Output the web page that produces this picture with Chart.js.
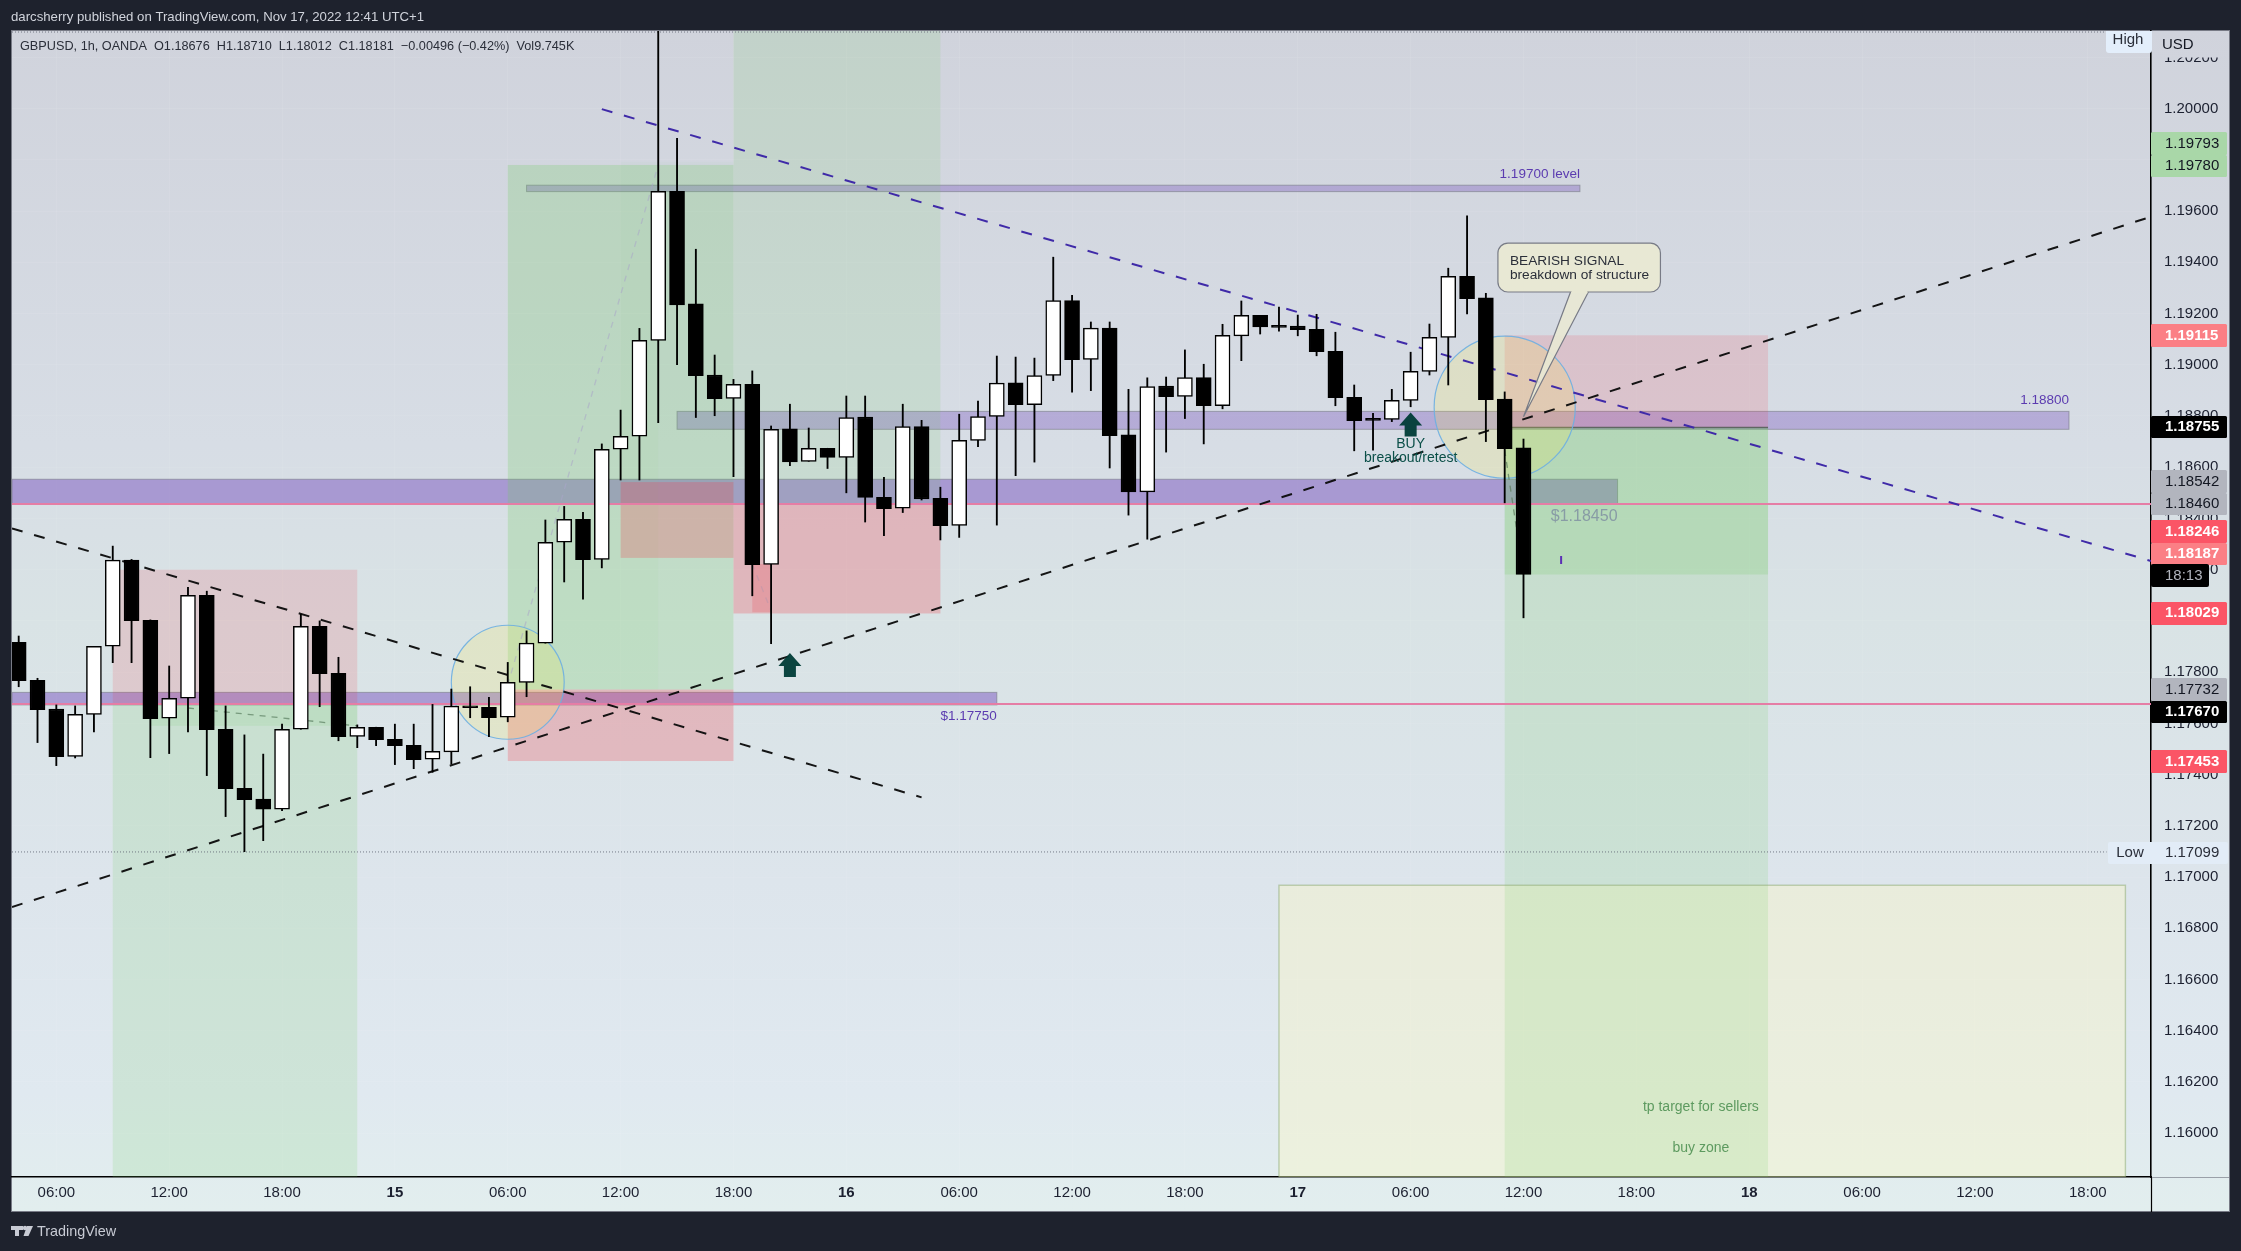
<!DOCTYPE html>
<html><head><meta charset="utf-8"><title>GBPUSD 1h</title>
<style>html,body{margin:0;padding:0;background:#1e222d;overflow:hidden}canvas{display:block}</style>
<script src="https://cdn.jsdelivr.net/npm/chart.js@4"></script>
</head><body><canvas id="c" width="2241" height="1251"></canvas>
<script>
const opens=[1.17916,1.17768,1.17656,1.17471,1.17635,1.17901,1.18237,1.18002,1.17620,1.17698,1.18100,1.17577,1.17346,1.17304,1.17265,1.17577,1.17979,1.17795,1.17549,1.17585,1.17538,1.17514,1.17460,1.17489,1.17667,1.17663,1.17624,1.17760,1.17913,1.18307,1.18397,1.18240,1.18670,1.18721,1.19095,1.19677,1.19238,1.18960,1.18869,1.18924,1.18221,1.18750,1.18623,1.18674,1.18638,1.18796,1.18482,1.18440,1.18759,1.18479,1.18373,1.18705,1.18798,1.18929,1.18844,1.18958,1.19251,1.19021,1.19143,1.18726,1.18504,1.18917,1.18876,1.18950,1.18840,1.19113,1.19193,1.19150,1.19151,1.19138,1.19052,1.18873,1.18788,1.18787,1.18861,1.18974,1.19107,1.19345,1.19261,1.18866,1.18676];
const highs=[1.17941,1.17776,1.17672,1.17668,1.17901,1.18292,1.18240,1.18004,1.17824,1.18131,1.18116,1.17668,1.17555,1.17480,1.17597,1.18026,1.18000,1.17858,1.17594,1.17585,1.17597,1.17597,1.17674,1.17734,1.17743,1.17702,1.17838,1.17961,1.18394,1.18447,1.18424,1.18691,1.18823,1.19142,1.20350,1.19884,1.19451,1.19038,1.18943,1.18976,1.18761,1.18846,1.18753,1.18674,1.18878,1.18878,1.18561,1.18846,1.18783,1.18522,1.18807,1.18858,1.19034,1.19030,1.19026,1.19420,1.19271,1.19167,1.19167,1.18904,1.18949,1.18952,1.19058,1.19002,1.19158,1.19249,1.19193,1.19225,1.19194,1.19197,1.19127,1.18921,1.18810,1.18904,1.19049,1.19159,1.19377,1.19581,1.19279,1.18894,1.18710];
const lows=[1.17743,1.17525,1.17435,1.17465,1.17567,1.17837,1.17837,1.17466,1.17482,1.17567,1.17396,1.17236,1.17099,1.17142,1.17259,1.17577,1.17665,1.17532,1.17505,1.17513,1.17439,1.17423,1.17409,1.17441,1.17622,1.17548,1.17606,1.17704,1.17913,1.18152,1.18085,1.18207,1.18550,1.18550,1.18774,1.19000,1.18794,1.18801,1.18563,1.18098,1.17911,1.18606,1.18623,1.18595,1.18500,1.18386,1.18333,1.18423,1.18472,1.18316,1.18326,1.18680,1.18374,1.18567,1.18620,1.18938,1.18893,1.18899,1.18597,1.18413,1.18319,1.18659,1.18790,1.18691,1.18828,1.19016,1.19120,1.19131,1.19113,1.19035,1.18840,1.18664,1.18667,1.18778,1.18836,1.18960,1.18921,1.19198,1.18700,1.18461,1.18012];
const closes=[1.17767,1.17653,1.17470,1.17635,1.17901,1.18237,1.18001,1.17618,1.17698,1.18100,1.17575,1.17345,1.17302,1.17265,1.17577,1.17979,1.17794,1.17548,1.17585,1.17536,1.17513,1.17458,1.17491,1.17667,1.17661,1.17622,1.17760,1.17913,1.18307,1.18397,1.18239,1.18670,1.18721,1.19095,1.19677,1.19234,1.18957,1.18868,1.18924,1.18220,1.18748,1.18621,1.18674,1.18638,1.18794,1.18482,1.18438,1.18759,1.18476,1.18372,1.18705,1.18798,1.18928,1.18844,1.18958,1.19251,1.19020,1.19143,1.18723,1.18504,1.18915,1.18875,1.18950,1.18840,1.19115,1.19193,1.19148,1.19146,1.19137,1.19051,1.18872,1.18782,1.18783,1.18861,1.18974,1.19107,1.19345,1.19258,1.18864,1.18672,1.18181];
const timeLabels=["06:00","12:00","18:00","15","06:00","12:00","18:00","16","06:00","12:00","18:00","17","06:00","12:00","18:00","18","06:00","12:00","18:00"];
const priceTicks=[1.202,1.2,1.198,1.196,1.194,1.192,1.19,1.188,1.186,1.184,1.182,1.18,1.178,1.176,1.174,1.172,1.17,1.168,1.166,1.164,1.162,1.16];

const X_MIN=-0.356,X_MAX=113.36,Y_MIN=1.15829,Y_MAX=1.20303;
const idx=opens.map((_,i)=>i);

// drawn tools, in bar index / price terms: x0,x1,y0,y1,fill
const RED='rgba(242,54,69,', GRN='rgba(110,205,95,';
const zones=[
 [5,18,1.17676,Y_MIN,GRN+'.16)'],[7,18,1.17676,1.17590,GRN+'.12)'],[5,18,1.18200,1.17676,RED+'.15)'],
 [26,34,1.19780,1.17732,GRN+'.25)'],[34,38,1.19780,1.17732,GRN+'.21)'],[32,38,1.19793,1.18542,GRN+'.03)'],
 [26,38,1.17732,1.17453,RED+'.25)'],[32,38,1.18542,1.18246,RED+'.24)'],
 [38,49,Y_MAX,1.18456,GRN+'.14)'],[38,49,1.18456,1.18029,RED+'.25)'],[39,40,1.18222,1.18034,RED+'.2)'],
 [67,112,1.16968,Y_MIN,'rgba(255,250,190,.36)'],
 [79,93,1.19115,1.18755,RED+'.15)'],[79,93,1.18755,Y_MIN,GRN+'.16)'],[79,93,1.18755,1.18181,GRN+'.2)']
];
const bands=[[X_MIN,85,1.18553,1.18456,'.42'],[X_MIN,52,1.17721,1.17672,'.42'],[27,83,1.19701,1.19676,'.3'],[35,109,1.18818,1.18748,'.3']];
const ellipses=[[23,29,1.17983,1.17538],[75.25,82.75,1.19112,1.18557]];
const trendBlack=[[[X_MIN,1.18361],[48,1.17311]],[[X_MIN,1.16883],[X_MAX,1.19578]]];
const trendBlue=[[31,1.19998],[X_MAX,1.18234]];
const pinkLevels=[1.18456,1.17676];
const paleLines=[[[26,1.17750],[34,1.19780],'rgba(170,165,200,.55)'],[[9,1.17660],[18,1.17590],'rgba(90,125,95,.7)'],[[79,1.18667],[80,1.18179],'rgba(95,125,95,.75)'],[[39,1.18222],[40,1.18039],'rgba(190,150,170,.6)']];
const entryLines=[[5,18,1.17676],[79,93,1.18755]];
const planLabels=[
 ["1.19700 level",83,1.19745,'right','#5b3bb0','13.5px'],["1.18800",109,1.18862,'right','#5b3bb0','13.5px'],
 ["$1.17750",52,1.17629,'right','#5b3bb0','13.5px'],["$1.18450",85,1.18407,'right','rgba(125,140,160,.8)','16px'],
 ["tp target for sellers",89.43,1.16100,'center','#5d9a5f','14px'],["buy zone",89.43,1.15943,'center','#5d9a5f','14px'],
 ["BUY",74,1.18691,'center','#0b4f48','14px'],["breakout/retest",74,1.18636,'center','#0b4f48','14px']];
const arrows=[[74,1.18814],[41,1.17875]];
const badges=[
 ["1.19793",144,'#a9d7a8','#131722',132,155],["1.19780",166,'#a9d7a8','#131722',155,177],
 ["1.19115",336,'#fb7f85','#ffffff',324,347],["1.18755",427,'#000000','#ffffff',416,438],
 ["1.18542",482,'#b2b5be','#131722',470,493],["1.18460",504,'#b2b5be','#131722',493,515],
 ["1.18246",532,'#fb5566','#ffffff',520,543],["1.18187",554,'#fb7f85','#ffffff',543,565],
 ["1.18029",613,'#fb5566','#ffffff',602,625],["1.17732",690,'#b2b5be','#131722',678,701],
 ["1.17670",712,'#000000','#ffffff',701,723],["1.17453",762,'#fb5566','#ffffff',750,773]];

const F='"Liberation Sans"';
const px=(c,x)=>c.scales.x.getPixelForValue(x), py=(c,y)=>c.scales.y.getPixelForValue(y);

const panel={id:'panel',beforeDraw(c){
  const g=c.ctx,gr=g.createLinearGradient(0,31,0,1211);
  gr.addColorStop(0,'#d0d3dc');gr.addColorStop(.35,'#d7dde5');gr.addColorStop(.5,'#d9e3e5');gr.addColorStop(.72,'#dde5ec');gr.addColorStop(.9,'#e0e9f0');gr.addColorStop(1,'#e2eeee');
  g.save();g.fillStyle='#1e222d';g.fillRect(0,0,2241,1251);g.fillStyle=gr;g.fillRect(12,31,2217,1180);
  g.strokeStyle='#787b86';g.lineWidth=1;g.strokeRect(11.5,30.5,2218,1181);g.restore();
}};
const tools={id:'tools',beforeDatasetsDraw(c){
  const g=c.ctx,a=c.chartArea;g.save();g.beginPath();g.rect(a.left,a.top,a.width,a.height);g.clip();
  const R=(x0,x1,y0,y1)=>[px(c,x0),py(c,y0),px(c,x1)-px(c,x0),py(c,y1)-py(c,y0)];
  bands.forEach(b=>{const r=R(b[0],b[1],b[2],b[3]);g.fillStyle='rgba(103,58,183,'+b[4]+')';g.fillRect(...r);g.strokeStyle='rgba(120,123,134,.6)';g.lineWidth=1;g.strokeRect(...r);});
  zones.forEach(z=>{g.fillStyle=z[4];g.fillRect(...R(z[0],z[1],z[2],z[3]));});
  {const r=R(67,112,1.16968,Y_MIN);g.strokeStyle='rgba(139,170,110,.5)';g.lineWidth=1.4;g.strokeRect(...r);}
  entryLines.forEach(l=>{g.strokeStyle='rgba(70,80,70,.75)';g.lineWidth=1.5;g.beginPath();g.moveTo(px(c,l[0]),py(c,l[2]));g.lineTo(px(c,l[1]),py(c,l[2]));g.stroke();});
  ellipses.forEach(e=>{const x0=px(c,e[0]),x1=px(c,e[1]),y0=py(c,e[2]),y1=py(c,e[3]);g.beginPath();g.ellipse((x0+x1)/2,(y0+y1)/2,(x1-x0)/2,(y1-y0)/2,0,0,Math.PI*2);g.fillStyle='rgba(255,235,59,.17)';g.fill();g.strokeStyle='rgba(110,175,225,.9)';g.lineWidth=1.2;g.stroke();});
  g.restore();
}};
const overlay={id:'overlay',afterDatasetsDraw(c){
  const g=c.ctx;g.save();g.textBaseline='middle';
  arrows.forEach(a=>{const x=px(c,a[0]),y=py(c,a[1]);g.fillStyle='rgba(0,60,55,.95)';g.beginPath();g.moveTo(x,y);g.lineTo(x+11.5,y+13);g.lineTo(x+6,y+13);g.lineTo(x+6,y+24);g.lineTo(x-6,y+24);g.lineTo(x-6,y+13);g.lineTo(x-11.5,y+13);g.closePath();g.fill();});
  planLabels.forEach(l=>{g.font=l[5]+' '+F;g.fillStyle=l[4];g.textAlign=l[3];g.fillText(l[0],px(c,l[1]),py(c,l[2]));});
  const x0=px(c,78.64),x1=px(c,87.28),y0=py(c,1.19475),y1=py(c,1.19284);
  g.beginPath();g.roundRect(x0,y0,x1-x0,y1-y0,10);g.fillStyle='#e8e8d4';g.fill();g.strokeStyle='#787b86';g.lineWidth=1.2;g.stroke();
  g.beginPath();g.moveTo(px(c,82.5),y1);g.lineTo(px(c,80),py(c,1.18797));g.lineTo(px(c,83.45),y1);g.fillStyle='rgba(232,232,212,.92)';g.fill();g.stroke();
  g.fillStyle='#e8e8d4';g.fillRect(px(c,82.5)+1,y1-1.5,px(c,83.45)-px(c,82.5)-2,3);
  g.font='13.7px '+F;g.fillStyle='#2a2e39';g.textAlign='left';g.fillText("BEARISH SIGNAL",x0+12,261);g.fillText("breakdown of structure",x0+12,275);
  g.restore();
}};
const chrome={id:'chrome',afterDraw(c){
  const g=c.ctx;g.save();g.textBaseline='middle';g.textAlign='left';
  g.strokeStyle='#000';g.lineWidth=1.2;g.beginPath();g.moveTo(2151.5,1177);g.lineTo(2151.5,1212);g.stroke();
  g.strokeStyle='#9aa0a8';g.lineWidth=1;g.beginPath();g.moveTo(2152,1177.5);g.lineTo(2229,1177.5);g.stroke();
  g.font='13.2px '+F;g.fillStyle='#d1d4dc';g.fillText("darcsherry published on TradingView.com, Nov 17, 2022 12:41 UTC+1",11,17);
  g.font='12.7px '+F;g.fillStyle='#2a2e39';g.fillText("GBPUSD, 1h, OANDA  O1.18676  H1.18710  L1.18012  C1.18181  −0.00496 (−0.42%)  Vol9.745K",20,46.5);
  g.fillStyle='#c8cbd4';g.fillRect(11,1226,12,4);g.fillRect(15,1226,4,10);g.beginPath();g.arc(25,1228,2.2,0,7);g.fill();g.beginPath();g.moveTo(27,1226);g.lineTo(33,1226);g.lineTo(28.5,1236);g.lineTo(23.5,1236);g.closePath();g.fill();
  g.font='14.4px '+F;g.fillText("TradingView",37,1232.5);
  const gu=g.createLinearGradient(0,31,0,60);gu.addColorStop(0,'#d0d3dc');gu.addColorStop(1,'#d1d4dd');g.fillStyle=gu;g.fillRect(2152.5,31.5,76,26);
  g.font='15px '+F;g.fillStyle='#131722';g.fillText("USD",2162,45);
  g.fillStyle='#e3eefb';g.beginPath();g.roundRect(2106,31,46,22,[0,0,3,3]);g.fill();
  g.fillStyle='#2a2e39';g.textAlign='center';g.fillText("High",2128,40);
  g.fillStyle='#e2ecf7';g.beginPath();g.roundRect(2108,842,120,22,2);g.fill();
  g.fillStyle='#2a2e39';g.fillText("Low",2130,852.5);g.textAlign='left';g.fillText("1.17099",2165,852.5);
  badges.forEach(b=>{g.fillStyle=b[2];g.beginPath();g.roundRect(2151,b[4],76,b[5]-b[4],1.5);g.fill();
    g.fillStyle=b[3];g.font=(b[3]==='#ffffff'?'bold ':'')+'15px '+F;g.fillText(b[0],2165,b[1]);});
  g.fillStyle='#000';g.beginPath();g.roundRect(2151,564,58,23,2);g.fill();g.fillStyle='#b2b5be';g.font='15px '+F;g.fillText("18:13",2165,576);
  g.restore();
}};

const lineDs=(pts,color,width,dash,order)=>({type:'line',data:pts.map(p=>({x:p[0],y:p[1]})),borderColor:color,borderWidth:width,borderDash:dash||[],pointRadius:0,fill:false,tension:0,order:order||5});
const datasets=[
 {type:'bar',data:idx.map(i=>({x:i,y:[opens[i],closes[i]]})),backgroundColor:idx.map(i=>closes[i]>=opens[i]?'#ffffff':'#000000'),borderColor:'#000000',borderWidth:1.5,borderSkipped:false,barThickness:15,minBarLength:2,grouped:false,order:1},
 {type:'bar',data:idx.map(i=>({x:i,y:[lows[i],highs[i]]})),backgroundColor:'#000000',borderWidth:0,barThickness:1.2,grouped:false,order:2},
 ...trendBlack.map(t=>lineDs(t,'rgba(10,10,10,.95)',2,[11,12])),
 lineDs(trendBlue,'#3f2aa8',2,[11,12]),
 ...pinkLevels.map(v=>lineDs([[X_MIN,v],[X_MAX,v]],'rgb(229,125,165)',2,null,6)),
 ...paleLines.map(l=>lineDs([l[0],l[1]],l[2],1.3,[6,6])),
 lineDs([[X_MIN,1.17098],[111,1.17098]],'rgba(90,95,110,.8)',1,[1,2]),
 lineDs([[X_MIN,1.20299],[111,1.20299]],'rgba(90,95,110,.8)',1,[1,2]),
 lineDs([[82,1.18253],[82,1.18222]],'#5b2fb5',2)
];
new Chart(document.getElementById('c'),{
 data:{datasets},
 plugins:[panel,tools,overlay,chrome],
 options:{responsive:false,animation:false,devicePixelRatio:1,
  layout:{padding:{left:12,right:12,top:31,bottom:39}},
  plugins:{legend:{display:false},tooltip:{enabled:false}},
  scales:{
   x:{type:'linear',offset:false,min:X_MIN,max:X_MAX,position:'bottom',
     afterBuildTicks:s=>{s.ticks=timeLabels.map((_,k)=>({value:2+6*k}));},
     afterFit:s=>{s.height=35;},
     grid:{color:'rgba(255,255,255,.07)',drawTicks:false,offset:false},border:{color:'#000',width:1.6},
     ticks:{autoSkip:false,maxRotation:0,padding:7,color:'#1c2030',
       font:ctx=>({family:F.replace(/"/g,''),size:15,weight:/:/.test(timeLabels[ctx.index]||':')?'normal':'bold'}),
       callback:(v,k)=>timeLabels[k]}},
   y:{type:'linear',position:'right',min:Y_MIN,max:Y_MAX,beginAtZero:false,
     afterBuildTicks:s=>{s.ticks=priceTicks.map(v=>({value:v}));},
     afterFit:s=>{s.width=78;},
     grid:{color:'rgba(255,255,255,.07)',drawTicks:false},border:{color:'#000',width:1.6},
     ticks:{autoSkip:false,padding:13,color:'#1c2030',font:{family:F.replace(/"/g,''),size:15},crossAlign:'near',
       callback:v=>Number(v).toFixed(5)}}
  }}
});
</script></body></html>
